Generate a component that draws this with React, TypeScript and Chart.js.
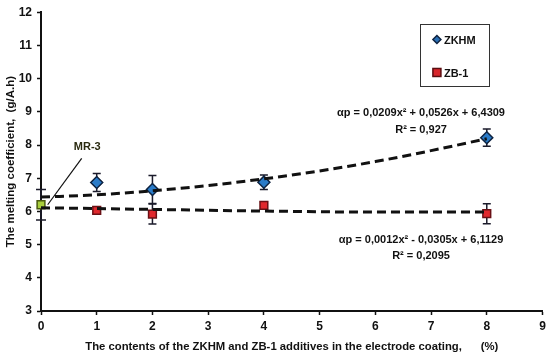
import React, { useEffect, useRef } from "react";
import { Chart, registerables } from "chart.js";

Chart.register(...registerables);

// ---- data ----
const xTicks = [0, 1, 2, 3, 4, 5, 6, 7, 8, 9];
const yTicks = [3, 4, 5, 6, 7, 8, 9, 10, 11, 12];

const measureX = [1, 2, 4, 8];
const zkhmValues = [6.87, 6.66, 6.88, 8.22];
const zkhmErrors = [0.27, 0.42, 0.22, 0.26];
const zb1Values = [6.03, 5.92, 6.18, 5.93];
const zb1Errors = [0.1, 0.3, 0.1, 0.3];

const mr3X = [0];
const mr3Values = [6.2];
const mr3Errors = [0.46];

const zkhmTrendX = [0, 1, 2, 3, 4, 5, 6, 7, 8];
const zkhmTrendY = [6.43, 6.5, 6.62, 6.78, 6.98, 7.22, 7.5, 7.83, 8.19];
const zb1TrendX = [0, 2, 4, 6, 8];
const zb1TrendY = [6.11, 6.06, 6.01, 5.98, 5.98];

const zkhmEquation = "αp = 0,0209x² + 0,0526x + 6,4309";
const zkhmR2 = "R² = 0,927";
const zb1Equation = "αp = 0,0012x² - 0,0305x + 6,1129";
const zb1R2 = "R² = 0,2095";
const legendLabels = ["ZKHM", "ZB-1"];
const mr3Label = "MR-3";
const xTitle = "The contents of the ZKHM and ZB-1 additives in the electrode coating,      (%)";
const yTitle = "The melting coefficient,  (g/A.h)";

const FONT = "'Liberation Sans', Arial, sans-serif";

const decorPlugin = {
  id: "decor",
  beforeDatasetsDraw(chart: any) {
    const { ctx, scales } = chart;
    const xs = scales.x;
    const ys = scales.y;
    ctx.save();
    ctx.strokeStyle = "#1b1b2b";
    ctx.lineWidth = 1.5;
    const bar = (xv: number, yv: number, e: number, half: number) => {
      const px = xs.getPixelForValue(xv);
      const top = ys.getPixelForValue(yv + e);
      const bot = ys.getPixelForValue(yv - e);
      ctx.beginPath();
      ctx.moveTo(px, top);
      ctx.lineTo(px, bot);
      ctx.moveTo(px - half, top);
      ctx.lineTo(px + half, top);
      ctx.moveTo(px - half, bot);
      ctx.lineTo(px + half, bot);
      ctx.stroke();
    };
    measureX.forEach((x, i) => bar(x, zkhmValues[i], zkhmErrors[i], 4));
    measureX.forEach((x, i) => bar(x, zb1Values[i], zb1Errors[i], 4));
    mr3X.forEach((x, i) => bar(x, mr3Values[i], mr3Errors[i], 5));
    ctx.restore();
  },
  afterDraw(chart: any) {
    const { ctx, scales } = chart;
    const xs = scales.x;
    const ys = scales.y;
    ctx.save();
    // equations
    ctx.fillStyle = "#111";
    ctx.font = `bold 11px ${FONT}`;
    ctx.textAlign = "center";
    ctx.textBaseline = "middle";
    const ex = xs.getPixelForValue(6.82);
    ctx.fillText(zkhmEquation, ex, ys.getPixelForValue(8.97));
    ctx.fillText(zkhmR2, ex, ys.getPixelForValue(8.46));
    ctx.fillText(zb1Equation, ex, ys.getPixelForValue(5.15));
    ctx.fillText(zb1R2, ex, ys.getPixelForValue(4.66));

    // legend box
    const lx0 = xs.getPixelForValue(6.8);
    const lx1 = xs.getPixelForValue(8.03);
    const ly0 = ys.getPixelForValue(11.63);
    const ly1 = ys.getPixelForValue(9.76);
    ctx.strokeStyle = "#333";
    ctx.lineWidth = 1;
    ctx.strokeRect(Math.round(lx0) + 0.5, Math.round(ly0) + 0.5, Math.round(lx1 - lx0), Math.round(ly1 - ly0));
    const mx = lx0 + 17;
    const r1 = ly0 + 15;
    const r2 = ly0 + 48;
    // diamond
    ctx.fillStyle = "#2a6fb5";
    ctx.strokeStyle = "#0d2240";
    ctx.lineWidth = 1.5;
    ctx.beginPath();
    ctx.moveTo(mx, r1 - 4);
    ctx.lineTo(mx + 4, r1);
    ctx.lineTo(mx, r1 + 4);
    ctx.lineTo(mx - 4, r1);
    ctx.closePath();
    ctx.fill();
    ctx.stroke();
    // square
    ctx.fillStyle = "#d8262b";
    ctx.strokeStyle = "#5a0d10";
    ctx.fillRect(mx - 4, r2 - 4, 8, 8);
    ctx.strokeRect(mx - 4, r2 - 4, 8, 8);
    ctx.fillStyle = "#111";
    ctx.font = `bold 11px ${FONT}`;
    ctx.textAlign = "left";
    ctx.fillText(legendLabels[0], mx + 7, r1 + 1);
    ctx.fillText(legendLabels[1], mx + 7, r2 + 1);

    // MR-3 label and pointer
    ctx.font = `bold 11px ${FONT}`;
    ctx.textAlign = "center";
    ctx.fillStyle = "#2a2a10";
    const mlx = xs.getPixelForValue(0.83);
    const mly = ys.getPixelForValue(7.93);
    ctx.fillText(mr3Label, mlx, mly);
    ctx.strokeStyle = "#111";
    ctx.lineWidth = 1.2;
    ctx.beginPath();
    ctx.moveTo(xs.getPixelForValue(0.73), ys.getPixelForValue(7.6));
    ctx.lineTo(xs.getPixelForValue(0.12), ys.getPixelForValue(6.2));
    ctx.stroke();
    ctx.restore();
  },
};

export default function App() {
  const ref = useRef<HTMLCanvasElement | null>(null);
  useEffect(() => {
    if (!ref.current) return;
    const chart = new Chart(ref.current, {
      type: "scatter",
      data: {
        datasets: [
          {
            label: "ZKHM trend",
            data: zkhmTrendX.map((x, i) => ({ x, y: zkhmTrendY[i] })),
            showLine: true,
            borderColor: "#111",
            borderWidth: 3,
            borderDash: [9, 5],
            pointRadius: 0,
            cubicInterpolationMode: "monotone",
          },
          {
            label: "ZB-1 trend",
            data: zb1TrendX.map((x, i) => ({ x, y: zb1TrendY[i] })),
            showLine: true,
            borderColor: "#111",
            borderWidth: 3,
            borderDash: [9, 5],
            pointRadius: 0,
            cubicInterpolationMode: "monotone",
          },
          {
            label: legendLabels[0],
            data: measureX.map((x, i) => ({ x, y: zkhmValues[i] })),
            pointStyle: "rectRot",
            pointRadius: 6,
            backgroundColor: "#2a7bc8",
            borderColor: "#0d2240",
            borderWidth: 1.5,
          },
          {
            label: legendLabels[1],
            data: measureX.map((x, i) => ({ x, y: zb1Values[i] })),
            pointStyle: "rect",
            pointRadius: 5.5,
            backgroundColor: "#e0282d",
            borderColor: "#6a1015",
            borderWidth: 1.5,
          },
          {
            label: mr3Label,
            data: mr3X.map((x, i) => ({ x, y: mr3Values[i] })),
            pointStyle: "rect",
            pointRadius: 5.5,
            backgroundColor: "#a9cf3c",
            borderColor: "#4a5a10",
            borderWidth: 1.5,
            clip: false,
          },
        ],
      },
      options: {
        animation: false,
        responsive: false,
        maintainAspectRatio: false,
        layout: { padding: { top: 9, right: 7, left: 0, bottom: 0 } },
        plugins: {
          legend: { display: false },
          tooltip: { enabled: false },
        },
        scales: {
          x: {
            type: "linear",
            min: 0,
            max: 9,
            afterBuildTicks: (s: any) => {
              s.ticks = xTicks.map((v) => ({ value: v }));
            },
            grid: {
              display: true,
              drawOnChartArea: false,
              drawTicks: true,
              tickLength: 4,
              color: "#111",
              tickWidth: 1.5,
            },
            border: { display: true, color: "#111", width: 2 },
            ticks: {
              color: "#111",
              font: { family: FONT, size: 12, weight: "bold" },
              padding: 4,
              maxRotation: 0,
            },
            title: {
              display: true,
              text: xTitle,
              color: "#111",
              font: { family: FONT, size: 11.3, weight: "bold" },
              padding: { top: 0, bottom: 0 },
            },
            afterFit: (s: any) => {
              s.height = 43;
            },
          },
          y: {
            type: "linear",
            min: 3,
            max: 12,
            afterBuildTicks: (s: any) => {
              s.ticks = yTicks.map((v) => ({ value: v }));
            },
            grid: {
              display: true,
              drawOnChartArea: false,
              drawTicks: true,
              tickLength: 4,
              color: "#111",
              tickWidth: 1.5,
            },
            border: { display: true, color: "#111", width: 2 },
            ticks: {
              color: "#111",
              font: { family: FONT, size: 12, weight: "bold" },
              padding: 5,
            },
            title: {
              display: true,
              text: yTitle,
              color: "#111",
              font: { family: FONT, size: 11.5, weight: "bold" },
              padding: { top: 4, bottom: 2 },
            },
            afterFit: (s: any) => {
              s.width = 41;
            },
          },
        },
      } as any,
      plugins: [decorPlugin],
    });
    return () => chart.destroy();
  }, []);

  return (
    <div style={{ position: "fixed", left: 0, top: 0, width: 550, height: 354, background: "#fff" }}>
      <canvas ref={ref} width={550} height={354} style={{ width: 550, height: 354 }} />
    </div>
  );
}
